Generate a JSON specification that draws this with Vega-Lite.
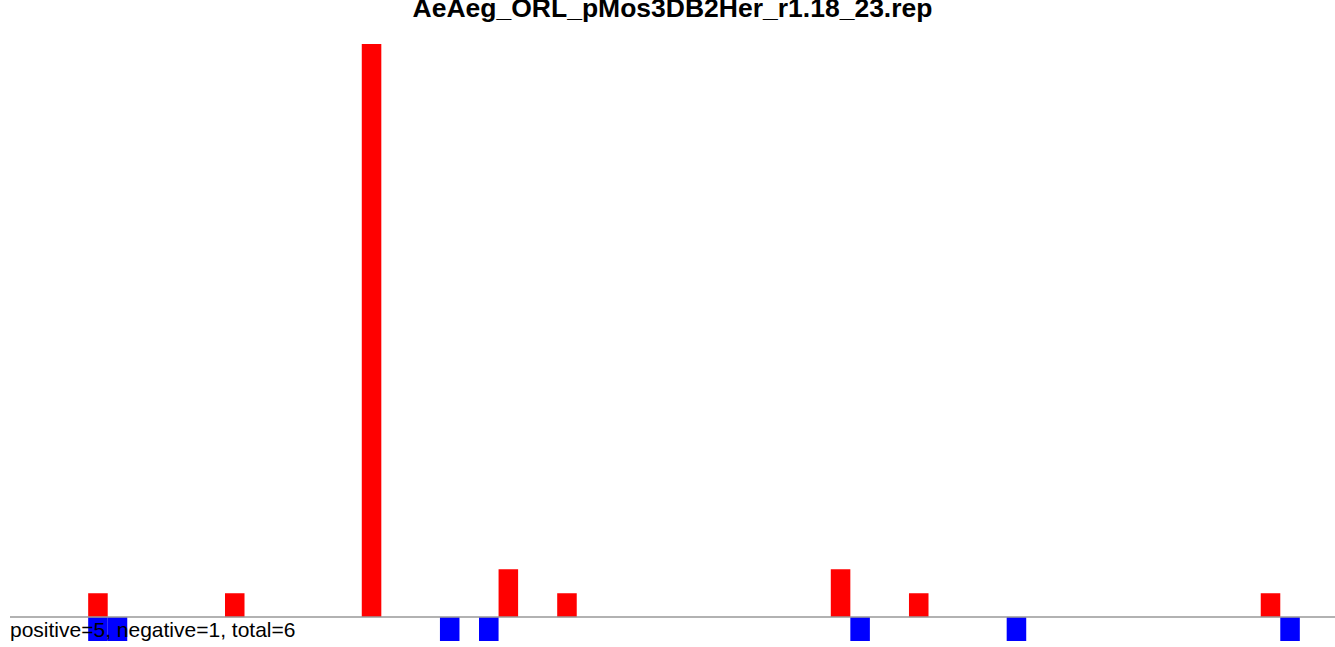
{
  "$schema": "https://vega.github.io/schema/vega-lite/v6.json",
  "width": 1325,
  "height": 597,
  "autosize": {"type": "none"},
  "padding": {"left": 10, "top": 44, "right": 0, "bottom": 6},
  "background": "white",
  "config": {"view": {"stroke": null}},
  "title": {
    "text": "AeAeg_ORL_pMos3DB2Her_r1.18_23.rep",
    "font": "Liberation Sans",
    "fontSize": 26.5,
    "fontWeight": "bold",
    "color": "black",
    "anchor": "middle",
    "baseline": "top",
    "offset": 22
  },
  "datasets": {
    "bars": [
      {"start": 4, "end": 5, "count": 1, "dir": "positive"},
      {"start": 11, "end": 12, "count": 1, "dir": "positive"},
      {"start": 18, "end": 19, "count": 24, "dir": "positive"},
      {"start": 25, "end": 26, "count": 2, "dir": "positive"},
      {"start": 28, "end": 29, "count": 1, "dir": "positive"},
      {"start": 42, "end": 43, "count": 2, "dir": "positive"},
      {"start": 46, "end": 47, "count": 1, "dir": "positive"},
      {"start": 64, "end": 65, "count": 1, "dir": "positive"},
      {"start": 4, "end": 5, "count": -1, "dir": "negative"},
      {"start": 5, "end": 6, "count": -1, "dir": "negative"},
      {"start": 22, "end": 23, "count": -1, "dir": "negative"},
      {"start": 24, "end": 25, "count": -1, "dir": "negative"},
      {"start": 43, "end": 44, "count": -1, "dir": "negative"},
      {"start": 51, "end": 52, "count": -1, "dir": "negative"},
      {"start": 65, "end": 66, "count": -1, "dir": "negative"}
    ],
    "label": [
      {"text": "positive=5, negative=1, total=6"}
    ]
  },
  "layer": [
    {
      "data": {"name": "bars"},
      "mark": {"type": "bar", "cornerRadius": 0},
      "encoding": {
        "x": {"field": "start", "type": "quantitative", "scale": {"domain": [0, 67.8], "nice": false, "zero": false}, "axis": null},
        "x2": {"field": "end"},
        "y": {"field": "count", "type": "quantitative", "scale": {"domain": [-1, 24], "nice": false}, "axis": null},
        "y2": {"datum": 0},
        "color": {"field": "dir", "type": "nominal", "scale": {"domain": ["positive", "negative"], "range": ["#FF0000", "#0000FF"]}, "legend": null}
      }
    },
    {
      "data": {"name": "label"},
      "mark": {"type": "rule", "color": "#999999", "strokeWidth": 1.5},
      "encoding": {"y": {"datum": 0}}
    },
    {
      "data": {"name": "label"},
      "mark": {"type": "text", "font": "Liberation Sans", "fontSize": 21, "align": "left", "baseline": "alphabetic", "dy": -4, "color": "black"},
      "encoding": {
        "x": {"datum": 0},
        "y": {"datum": -1},
        "text": {"field": "text", "type": "nominal"}
      }
    }
  ]
}
